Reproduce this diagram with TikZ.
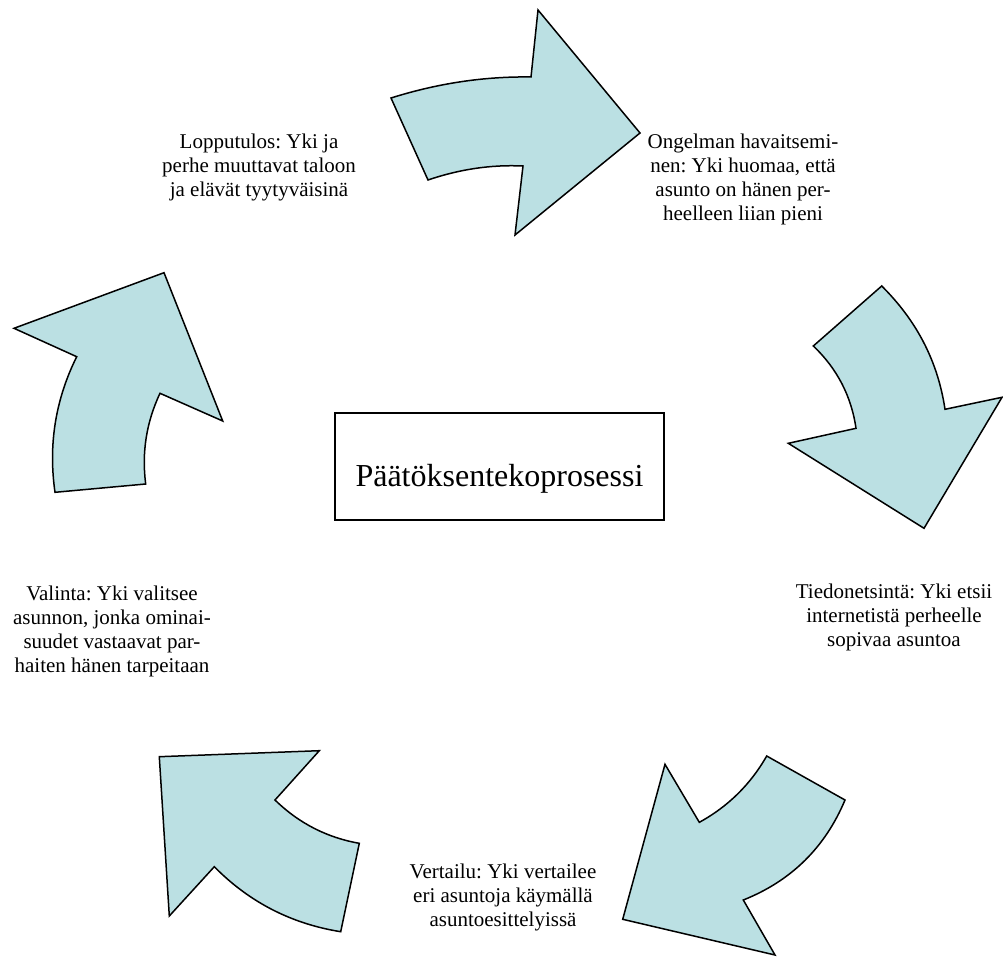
\documentclass[tikz,border=0pt]{standalone}
\usepackage{fontspec}
\setmainfont{Liberation Serif}
\frenchspacing
\definecolor{arrowfill}{RGB}{187,224,227}
% centred multi-line cell whose baseline is that of its first line
\newcommand\stepcell[1]{\begin{tabular}[t]{@{}c@{}}#1\end{tabular}}
\begin{document}
\begin{tikzpicture}[x=1pt,y=-1pt,
  cyclearrow/.style={draw=black, line width=1.5pt, fill=arrowfill, line join=miter},
  steplabel/.style={anchor=base, inner sep=0pt, font=\fontsize{21}{24}\selectfont},
  titlebox/.style={draw=black, line width=1.5pt, inner sep=0pt, minimum width=329pt,
    text height=73pt, text depth=34pt, anchor=base, font=\fontsize{32}{38}\selectfont}]
\useasboundingbox (0,0) rectangle (1003,957);

% curved arrows of the cycle
\path[cyclearrow] (391,98) .. controls (437.7,83.3) and (484.3,76.3) .. (531,77)
  -- (538,10) -- (640,133) -- (515,235) -- (523,166)
  .. controls (491.3,164.5) and (459.7,169.2) .. (428,180) -- cycle;

\path[cyclearrow] (881.7,286) -- (813.3,346)
  .. controls (837,368.5) and (851.3,396) .. (856,428.3)
  -- (788.3,443.3) -- (924,528.3) -- (1002,397.3) -- (945,409.3)
  .. controls (937.7,360.7) and (916.3,320.3) .. (881.7,286) -- cycle;

\path[cyclearrow] (766.7,756) -- (845,800)
  .. controls (825.1,847.5) and (791.2,880.9) .. (743.3,900)
  -- (775,955) -- (622.7,919.3) -- (665,764.3) -- (699.3,822.3)
  .. controls (728,806.6) and (750.4,784.5) .. (766.7,756) -- cycle;

\path[cyclearrow] (159.3,756.7) -- (319.3,750.7) -- (275,800)
  .. controls (298.7,823.1) and (326.8,837.6) .. (359.3,843.3)
  -- (340.7,931.7)
  .. controls (291.4,923.8) and (249.3,902.2) .. (214.3,866.7)
  -- (169.3,916) -- cycle;

\path[cyclearrow] (164,272.7) -- (222.7,421) -- (160,393.3)
  .. controls (146.4,422.2) and (141.6,452.4) .. (145.7,484)
  -- (55,492.3)
  .. controls (48.2,444.8) and (55.4,399.6) .. (76.7,356.7)
  -- (14,328.3) -- cycle;

% title in the middle
\node[titlebox] (title) at (499.5,486) {Päätöksentekoprosessi};

% stage descriptions
\node[steplabel] (outcome) at (259,149)
  {\stepcell{Lopputulos: Yki ja\\perhe muuttavat taloon\\ja elävät tyytyväisinä}};
\node[steplabel] (problem) at (743,149)
  {\stepcell{Ongelman havaitsemi-\\nen: Yki huomaa, että\\asunto on hänen per-\\heelleen liian pieni}};
\node[steplabel] (search) at (894,598)
  {\stepcell{Tiedonetsintä: Yki etsii\\internetistä perheelle\\sopivaa asuntoa}};
\node[steplabel] (compare) at (503,878)
  {\stepcell{Vertailu: Yki vertailee\\eri asuntoja käymällä\\asuntoesittelyissä}};
\node[steplabel] (choice) at (112,600)
  {\stepcell{Valinta: Yki valitsee\\asunnon, jonka ominai-\\suudet vastaavat par-\\haiten hänen tarpeitaan}};
\end{tikzpicture}
\end{document}
